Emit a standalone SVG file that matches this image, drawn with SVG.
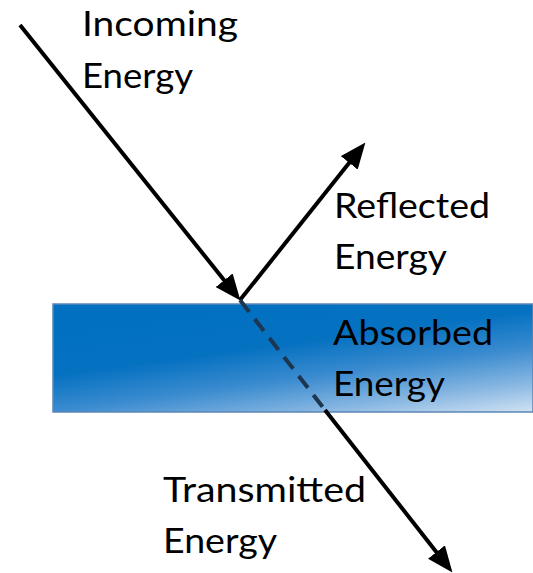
<svg xmlns="http://www.w3.org/2000/svg" width="533" height="573" viewBox="0 0 533 573">
<style>
.lbl{font-family:Lato,"Open Sans","Liberation Sans",sans-serif;font-size:35px;fill:#000}
.arrow{stroke:#000;stroke-width:4;fill:none}
</style>
<defs>
<linearGradient id="blueGrad" gradientUnits="userSpaceOnUse" x1="296" y1="270" x2="320" y2="448">
<stop offset="0" stop-color="#0070c0"/>
<stop offset="0.4" stop-color="#0571c1"/>
<stop offset="0.6" stop-color="#3a8bcf"/>
<stop offset="0.8" stop-color="#8ab8e2"/>
<stop offset="1" stop-color="#e3edf7"/>
</linearGradient>
<marker id="head" markerUnits="userSpaceOnUse" markerWidth="26" markerHeight="22" refX="16" refY="10" orient="auto" viewBox="0 0 24 20">
<path d="M0,0 L24,10 L0,20 z" fill="#000"/>
</marker>
</defs>
<g id="medium">
<rect x="53" y="304" width="480" height="108" fill="url(#blueGrad)" stroke="#5b86b5" stroke-width="1.5"/>
</g>
<g id="connectors">
<line class="arrow" x1="20" y1="25" x2="235" y2="293.75" marker-end="url(#head)"/>
<line class="arrow" x1="240" y1="300" x2="360" y2="149.3" marker-end="url(#head)"/>
<line x1="240" y1="300" x2="325" y2="410" stroke="#1d3650" stroke-width="4" stroke-dasharray="15,9"/>
<line class="arrow" x1="325" y1="410" x2="447.1" y2="565.7" marker-end="url(#head)"/>
</g>
<g id="incoming">
<text class="lbl" x="82" y="36" textLength="156" lengthAdjust="spacingAndGlyphs">Incoming</text>
<text class="lbl" x="82" y="88" textLength="111" lengthAdjust="spacingAndGlyphs">Energy</text>
</g>
<g id="reflected">
<text class="lbl" x="334" y="218" textLength="156" lengthAdjust="spacingAndGlyphs">Reflected</text>
<text class="lbl" x="334" y="269" textLength="113" lengthAdjust="spacingAndGlyphs">Energy</text>
</g>
<g id="absorbed">
<text class="lbl" x="333" y="345" textLength="160" lengthAdjust="spacingAndGlyphs">Absorbed</text>
<text class="lbl" x="333" y="396" textLength="112" lengthAdjust="spacingAndGlyphs">Energy</text>
</g>
<g id="transmitted">
<text class="lbl" x="163" y="502" textLength="203" lengthAdjust="spacingAndGlyphs">Transmitted</text>
<text class="lbl" x="163" y="553" textLength="114" lengthAdjust="spacingAndGlyphs">Energy</text>
</g>
</svg>
